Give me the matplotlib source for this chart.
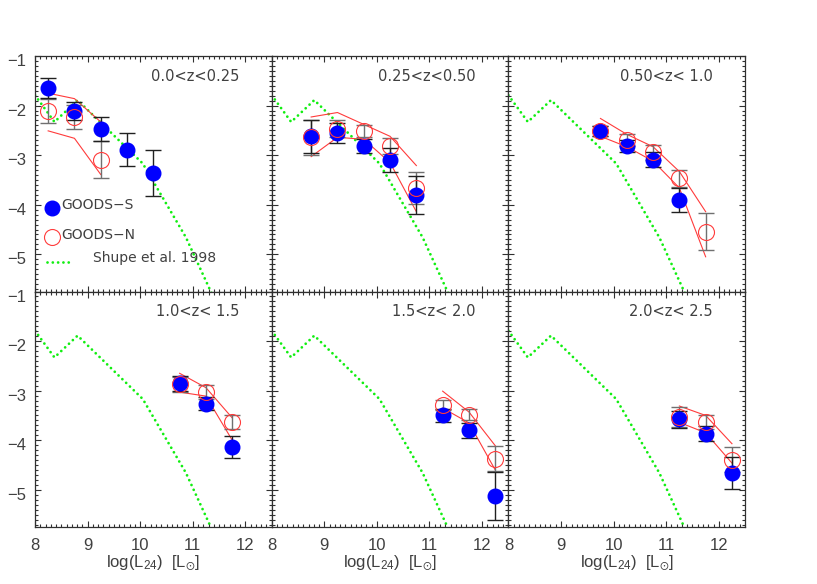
import matplotlib
matplotlib.use('Agg')
import matplotlib.pyplot as plt
from matplotlib.ticker import MultipleLocator
from matplotlib.transforms import ScaledTranslation

plt.rcParams['font.family'] = ['Liberation Sans', 'DejaVu Sans']
plt.rcParams['mathtext.fontset'] = 'custom'
plt.rcParams['mathtext.rm'] = 'Liberation Sans'
plt.rcParams['mathtext.it'] = 'Liberation Sans'
plt.rcParams['mathtext.fallback'] = 'stix'

# ---------------- data ----------------
panel_labels = ['0.0<z<0.25', '0.25<z<0.50', '0.50<z< 1.0',
                '1.0<z< 1.5', '1.5<z< 2.0', '2.0<z< 2.5']

# Shupe et al. 1998 local luminosity function
shupe_x = [8.0, 8.37, 8.81, 10.05, 10.87, 11.32, 11.5]
shupe_y = [-1.79, -2.33, -1.89, -3.17, -4.66, -5.70, -6.10]

# panel 1
x1_S = [8.25, 8.75, 9.25, 9.75, 10.25]
y1_S = [-1.65, -2.11, -2.47, -2.89, -3.36]
e1_S = [0.20, 0.18, 0.24, 0.33, 0.47]
x1_N = [8.25, 8.75, 9.25]
y1_N = [-2.11, -2.23, -3.09]
e1_N = [0.25, 0.25, 0.38]
u1_N = [-1.75, -1.86, -2.33]
l1_N = [-2.51, -2.66, -3.39]

# panel 2
x2_S = [8.75, 9.25, 9.75, 10.25, 10.75]
y2_S = [-2.62, -2.55, -2.81, -3.09, -3.80]
e2_S = [0.33, 0.20, 0.14, 0.24, 0.38]
x2_N = [8.75, 9.25, 9.75, 10.25, 10.75]
y2_N = [-2.64, -2.47, -2.51, -2.81, -3.66]
e2_N = [0.35, 0.17, 0.12, 0.16, 0.33]
u2_N = [-2.23, -2.14, -2.38, -2.62, -3.21]
l2_N = [-3.03, -2.64, -2.68, -3.15, -4.14]

# panel 3
x3_S = [9.75, 10.25, 10.75, 11.25]
y3_S = [-2.51, -2.81, -3.09, -3.91]
e3_S = [0.10, 0.12, 0.15, 0.24]
x3_N = [9.75, 10.25, 10.75, 11.25, 11.75]
y3_N = [-2.51, -2.70, -2.94, -3.47, -4.54]
e3_N = [0.10, 0.12, 0.15, 0.17, 0.38]
u3_N = [-2.26, -2.58, -2.83, -3.33, -4.14]
l3_N = [-2.62, -2.83, -3.12, -3.66, -5.05]

# panel 4
x4_S = [10.75, 11.25, 11.75]
y4_S = [-2.85, -3.26, -4.14]
e4_S = [0.15, 0.14, 0.22]
x4_N = [10.75, 11.25, 11.75]
y4_N = [-2.87, -3.03, -3.64]
e4_N = [0.15, 0.14, 0.14]
u4_N = [-2.65, -2.94, -3.55]
l4_N = [-3.03, -3.11, -4.00]

# panel 5
x5_S = [11.25, 11.75, 12.25]
y5_S = [-3.50, -3.80, -5.12]
e5_S = [0.14, 0.15, 0.48]
x5_N = [11.25, 11.75, 12.25]
y5_N = [-3.29, -3.49, -4.37]
e5_N = [0.10, 0.11, 0.26]
u5_N = [-3.01, -3.43, -4.11]
l5_N = [-3.35, -3.65, -4.60]

# panel 6
x6_S = [11.25, 11.75, 12.25]
y6_S = [-3.58, -3.87, -4.66]
e6_S = [0.17, 0.15, 0.33]
x6_N = [11.25, 11.75, 12.25]
y6_N = [-3.53, -3.64, -4.39]
e6_N = [0.20, 0.14, 0.25]
u6_N = [-3.31, -3.50, -4.07]
l6_N = [-3.64, -3.85, -4.46]

x_ticks = [8, 9, 10, 11, 12]
y_ticks = [-1, -2, -3, -4, -5]

panels = [
    (x1_S, y1_S, e1_S, x1_N, y1_N, e1_N, u1_N, l1_N),
    (x2_S, y2_S, e2_S, x2_N, y2_N, e2_N, u2_N, l2_N),
    (x3_S, y3_S, e3_S, x3_N, y3_N, e3_N, u3_N, l3_N),
    (x4_S, y4_S, e4_S, x4_N, y4_N, e4_N, u4_N, l4_N),
    (x5_S, y5_S, e5_S, x5_N, y5_N, e5_N, u5_N, l5_N),
    (x6_S, y6_S, e6_S, x6_N, y6_N, e6_N, u6_N, l6_N),
]

# ---------------- figure ----------------
W, H = 817, 584
fig = plt.figure(figsize=(W / 100, H / 100), dpi=100)

left_px, top_px, bot_px = 35.0, 56.0, 527.0
pw = 236.7
ph = (bot_px - top_px) / 2.0

txt_col = '#404040'
red = '#ff3b3b'
green = '#11ee11'
dots = (0, (0.01, 1.9))
label_font = ['DejaVu Sans']

def green_line(ax, x, y, **kw):
    ln, = ax.plot(x, y, color=green, lw=2.0, linestyle=dots, **kw)
    ln.set_dash_capstyle('round')
    return ln

for i, (xs, ys, es, xn, yn, en, un, ln) in enumerate(panels):
    row, col = divmod(i, 3)
    x0 = left_px + col * pw
    y_top = top_px + row * ph
    ax = fig.add_axes([x0 / W, 1 - (y_top + ph) / H, pw / W, ph / H])
    ax.set_xlim(8, 12.5)
    ax.set_ylim(-5.75, -1)

    # Shupe curve
    green_line(ax, shupe_x, shupe_y, zorder=1)

    # GOODS-N envelope lines
    ax.plot(xn, un, color=red, lw=0.8, zorder=2)
    ax.plot(xn, ln, color=red, lw=0.8, zorder=2)

    # error bars
    ax.errorbar(xn, yn, yerr=en, fmt='none', ecolor='#707070', elinewidth=1.0,
                capsize=6, capthick=1.0, zorder=3)
    ax.errorbar(xs, ys, yerr=es, fmt='none', ecolor='#202020', elinewidth=1.0,
                capsize=6, capthick=1.0, zorder=3)

    # points
    ax.plot(xs, ys, 'o', ms=10.5, color='#0000ff', mec='#0000ff', zorder=4)
    ax.plot(xn, yn, 'o', ms=11.5, mfc='none', mec=red, mew=0.8, zorder=5)

    ax.text(0.862, 0.915, panel_labels[i], transform=ax.transAxes,
            ha='right', va='center', fontsize=10.5, color=txt_col,
            family=label_font)

    ax.xaxis.set_major_locator(MultipleLocator(1))
    ax.xaxis.set_minor_locator(MultipleLocator(0.1))
    ax.yaxis.set_major_locator(MultipleLocator(1))
    ax.yaxis.set_minor_locator(MultipleLocator(0.1))
    ax.set_xticks(x_ticks)
    ax.set_yticks(y_ticks)
    ax.tick_params(which='both', direction='in', top=True, right=True,
                   color='#303030', width=0.8)
    ax.tick_params(which='major', length=4)
    ax.tick_params(which='minor', length=2)
    ax.tick_params(axis='x', labelsize=12, labelcolor=txt_col, pad=8)
    ax.tick_params(axis='y', labelsize=12, labelcolor=txt_col, pad=6)
    for s in ax.spines.values():
        s.set_color('#303030')
        s.set_linewidth(0.9)

    if col != 0:
        ax.set_yticklabels([])
    else:
        ax.set_yticklabels(['\u2212%d' % abs(v) for v in y_ticks])
        off = ScaledTranslation(0, -3 / 72, fig.dpi_scale_trans)
        for lab in ax.get_yticklabels():
            lab.set_transform(lab.get_transform() + off)
    if row == 0:
        ax.set_xticklabels([])
    else:
        ax.set_xticklabels([str(v) for v in x_ticks])
        ax.text(0.5, -0.155, r'log(L$_{24}$)  [L$_{\odot}$]',
                transform=ax.transAxes, ha='center', va='center',
                fontsize=12, color=txt_col)

    if i == 0:
        ax.plot([0.0706], [0.356], 'o', ms=10.5, color='#0000ff',
                transform=ax.transAxes)
        ax.plot([0.0706], [0.233], 'o', ms=11.5, mfc='none', mec=red,
                mew=0.8, transform=ax.transAxes)
        green_line(ax, [0.05, 0.16], [0.127, 0.127], transform=ax.transAxes)
        ax.text(0.112, 0.367, 'GOODS\u2212S', transform=ax.transAxes,
                ha='left', va='center', fontsize=10, color=txt_col,
                family=label_font)
        ax.text(0.112, 0.24, 'GOODS\u2212N', transform=ax.transAxes,
                ha='left', va='center', fontsize=10, color=txt_col,
                family=label_font)
        ax.text(0.246, 0.142, 'Shupe et al. 1998', transform=ax.transAxes,
                ha='left', va='center', fontsize=10, color=txt_col,
                family=label_font)

fig.savefig('out.png', dpi=100)
